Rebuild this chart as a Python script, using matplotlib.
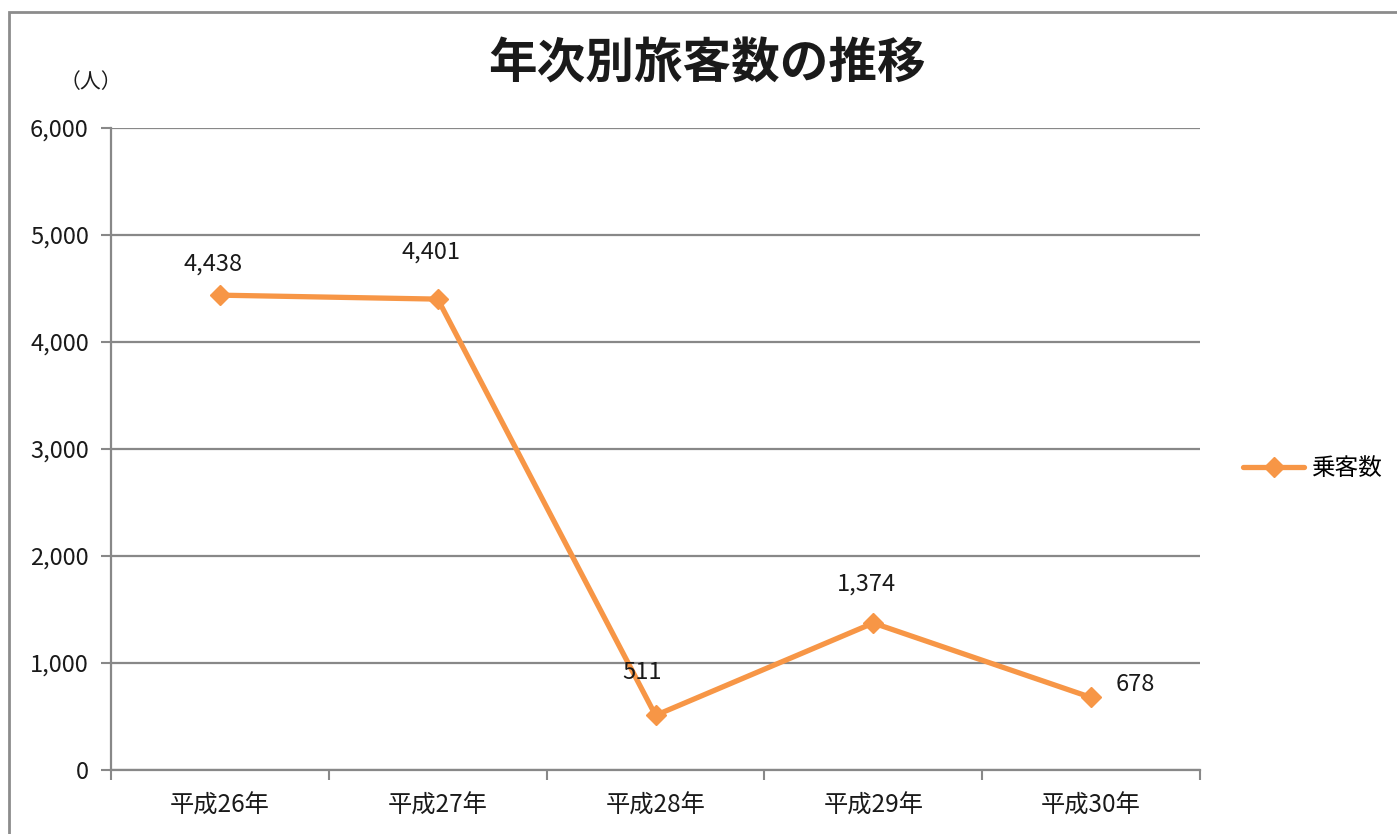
import matplotlib
matplotlib.use("Agg")
import matplotlib.pyplot as plt
from matplotlib.patches import Rectangle

plt.rcParams['font.family'] = ['Noto Sans CJK JP', 'DejaVu Sans']

years = ['平成26年', '平成27年', '平成28年', '平成29年', '平成30年']
passengers = [4438, 4401, 511, 1374, 678]
y_ticks = [0, 1000, 2000, 3000, 4000, 5000, 6000]
# label offsets in points (dx, dy)
label_offsets = [(-5, 22), (-5, 34), (-10, 31), (-5, 28), (32, 9)]

orange = '#F79646'
grid_gray = '#888888'

fig = plt.figure(figsize=(13.97, 8.34), dpi=100)
ax = fig.add_axes([0.0795, 0.0767, 0.7795, 0.7698])

fig.patches.append(Rectangle((9 / 1397, 0 - 0.01), 1.02, 1 - 12 / 834 + 0.01,
                             transform=fig.transFigure, fill=False,
                             edgecolor='#8c8c8c', linewidth=2, clip_on=False))

x = list(range(len(years)))
ax.plot(x, passengers, color=orange, linewidth=3.8, marker='D', markersize=10,
        label='乗客数', solid_capstyle='round')

for xi, v, (dx, dy) in zip(x, passengers, label_offsets):
    ax.annotate(f'{v:,}', (xi, v), xytext=(dx, dy), textcoords='offset points',
                ha='center', va='center', fontsize=17, color='#1a1a1a')

ax.set_xlim(-0.5, len(years) - 0.5)
ax.set_ylim(0, 6000)
ax.set_yticks(y_ticks)
ax.set_yticklabels([f'{t:,}' for t in y_ticks], fontsize=17, color='#1a1a1a')
ax.set_xticks([i - 0.5 for i in range(len(years) + 1)], minor=False)
ax.set_xticklabels([])
ax.set_xticks(x, minor=True)
ax.set_xticklabels(years, minor=True, fontsize=17.5, color='#1a1a1a')
ax.tick_params(axis='x', which='minor', length=0, pad=16)
ax.tick_params(axis='x', which='major', length=7, width=1.5, color=grid_gray)
ax.tick_params(axis='y', length=7, width=1.5, color=grid_gray, pad=9)

ax.grid(axis='y', color=grid_gray, linewidth=1.6)
ax.set_axisbelow(True)
for side in ['top', 'right']:
    ax.spines[side].set_visible(False)
for side in ['left', 'bottom']:
    ax.spines[side].set_color(grid_gray)
    ax.spines[side].set_linewidth(1.6)

fig.text(707 / 1397, 1 - 64 / 834, '年次別旅客数の推移', ha='center', va='center',
         fontsize=35, fontweight='bold', color='#1a1a1a')
fig.text(91 / 1397, 1 - 82 / 834, '（人）', ha='center', va='center',
         fontsize=15, color='#1a1a1a')

ax.legend(loc='center left', bbox_to_anchor=(1.02, 0.47), frameon=False,
          fontsize=17, handlelength=2.6, handletextpad=0.3)

fig.savefig('out.png', dpi=100)
